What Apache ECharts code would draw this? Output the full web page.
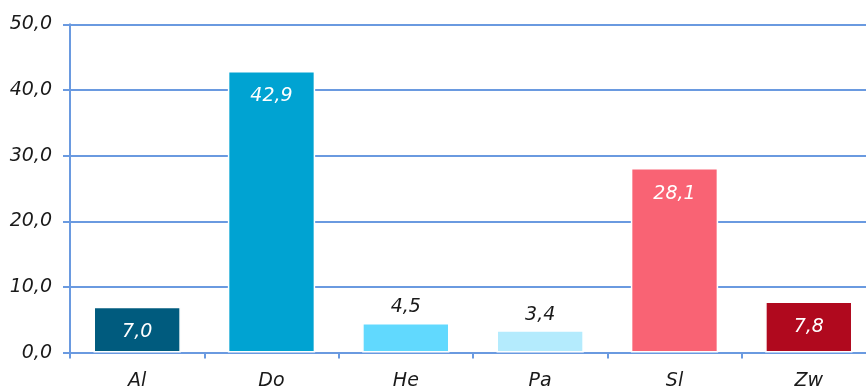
<!DOCTYPE html>
<html>
<head>
<meta charset="utf-8">
<script src="https://cdn.jsdelivr.net/npm/echarts@6/dist/echarts.min.js"></script>
<style>
  html, body { margin: 0; padding: 0; background: #ffffff; overflow: hidden; }
  #chart { width: 880px; height: 388px; }
</style>
</head>
<body>
<div id="chart"></div>
<script>
// Category names and values
const categories = ['Al', 'Do', 'He', 'Pa', 'Sl', 'Zw'];
const values = [7.0, 42.9, 4.5, 3.4, 28.1, 7.8];
const barColors = ['#005b7e', '#00a3d2', '#61d9fe', '#b4ebfd', '#f96374', '#b0091e'];
// Bars whose value label sits above the bar instead of inside it
const labelAbove = [false, false, true, true, false, false];

const yMin = 0, yMax = 50, yStep = 10;

const fmt = v => v.toFixed(1).replace('.', ',');
const gridBlue = '#6a9ae0';
const textDark = '#1a1a1a';
const fontFamily = '"DejaVu Sans", Verdana, sans-serif';
const fontSize = 19;

const chart = echarts.init(document.getElementById('chart'));

const data = values.map((v, i) => ({
  value: v,
  itemStyle: { color: barColors[i] },
  label: labelAbove[i]
    ? { position: 'top', distance: 6, color: textDark }
    : { position: 'insideTop', distance: 16, color: '#ffffff' }
}));

chart.setOption({
  animation: false,
  grid: {
    left: 70, top: 24.3, width: 806, height: 328.3,
    containLabel: false,
    outerBoundsMode: 'none'
  },
  xAxis: {
    type: 'category',
    data: categories,
    axisLine: { lineStyle: { color: gridBlue, width: 2 } },
    axisTick: { show: true, length: 6, alignWithLabel: false, lineStyle: { color: gridBlue, width: 2 } },
    axisLabel: { color: textDark, fontSize: fontSize, fontStyle: 'italic', fontFamily: fontFamily, margin: 19 },
    splitLine: { show: false }
  },
  yAxis: {
    type: 'value',
    min: yMin,
    max: yMax,
    interval: yStep,
    axisLine: { show: true, lineStyle: { color: gridBlue, width: 2 } },
    axisTick: { show: true, length: 7, lineStyle: { color: gridBlue, width: 2 } },
    axisLabel: { color: textDark, fontSize: fontSize, fontStyle: 'italic', fontFamily: fontFamily, margin: 18, formatter: v => fmt(v) },
    splitLine: { show: true, lineStyle: { color: gridBlue, width: 2 } }
  },
  series: [{
    type: 'bar',
    data: data,
    barWidth: '65%',
    itemStyle: { borderColor: '#ffffff', borderWidth: 1.5 },
    label: {
      show: true,
      fontSize: fontSize,
      fontStyle: 'italic',
      fontFamily: fontFamily,
      formatter: p => fmt(p.value)
    }
  }]
});
</script>
</body>
</html>
